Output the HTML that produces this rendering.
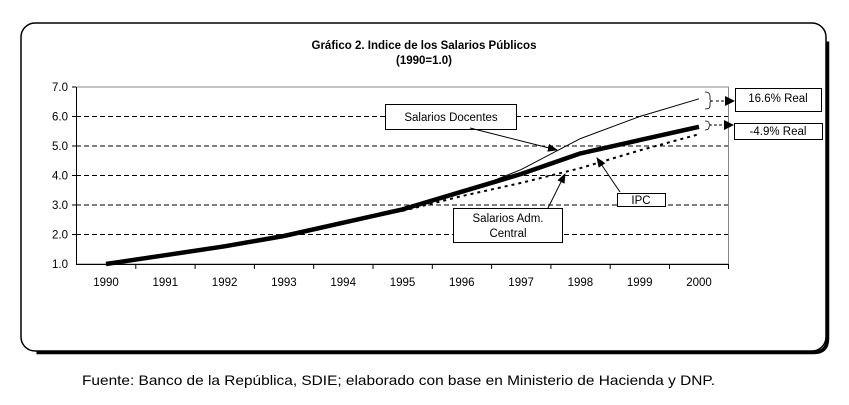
<!DOCTYPE html>
<html><head><meta charset="utf-8"><style>
body{margin:0;background:#fff;}
svg{display:block;font-family:"Liberation Sans",Arial,sans-serif;}
</style></head><body>
<svg width="849" height="405" viewBox="0 0 849 405">
<defs><marker id="ah" markerWidth="10" markerHeight="8" refX="9" refY="4" orient="auto" markerUnits="userSpaceOnUse"><path d="M0,0 L10,4 L0,8 Z" fill="#000"/></marker></defs>
<rect x="21" y="23" width="805" height="328" rx="14" fill="#fff" stroke="#000" stroke-width="1.5"/>
<path d="M826,40 L826,337 Q826,351 812,351 L35,351" fill="none" stroke="#000" stroke-width="3.5" transform="translate(1.5,1.5)"/>
<text x="424" y="49" font-size="11.5" font-weight="bold" text-anchor="middle">Gráfico 2. Indice de los Salarios Públicos</text>
<text x="424" y="64" font-size="11.5" font-weight="bold" text-anchor="middle">(1990=1.0)</text>
<g stroke="#000" stroke-width="1" stroke-dasharray="5,3">
<line x1="76" y1="116.5" x2="728" y2="116.5"/><line x1="76" y1="146" x2="728" y2="146"/><line x1="76" y1="175.5" x2="728" y2="175.5"/><line x1="76" y1="205" x2="728" y2="205"/><line x1="76" y1="234.5" x2="728" y2="234.5"/>
</g>
<rect x="76.5" y="87" width="652" height="177" fill="none" stroke="#888" stroke-width="1"/>
<line x1="76.5" y1="87" x2="76.5" y2="264" stroke="#000"/>
<line x1="76" y1="264.5" x2="729" y2="264.5" stroke="#000"/>
<g stroke="#000"><line x1="72" y1="87" x2="76" y2="87"/><line x1="72" y1="116.5" x2="76" y2="116.5"/><line x1="72" y1="146" x2="76" y2="146"/><line x1="72" y1="175.5" x2="76" y2="175.5"/><line x1="72" y1="205" x2="76" y2="205"/><line x1="72" y1="234.5" x2="76" y2="234.5"/>
<line x1="135.8" y1="264" x2="135.8" y2="269"/><line x1="195.1" y1="264" x2="195.1" y2="269"/><line x1="254.4" y1="264" x2="254.4" y2="269"/><line x1="313.7" y1="264" x2="313.7" y2="269"/><line x1="373" y1="264" x2="373" y2="269"/><line x1="432.3" y1="264" x2="432.3" y2="269"/><line x1="491.6" y1="264" x2="491.6" y2="269"/><line x1="550.9" y1="264" x2="550.9" y2="269"/><line x1="610.2" y1="264" x2="610.2" y2="269"/><line x1="669.5" y1="264" x2="669.5" y2="269"/><line x1="728.5" y1="264" x2="728.5" y2="269"/></g>
<g font-size="11.5" text-anchor="end"><text x="68" y="91">7.0</text><text x="68" y="120.5">6.0</text><text x="68" y="150">5.0</text><text x="68" y="179.5">4.0</text><text x="68" y="209">3.0</text><text x="68" y="238.5">2.0</text><text x="68" y="268">1.0</text></g>
<g font-size="11.5" text-anchor="middle"><text x="106" y="286">1990</text><text x="165.3" y="286">1991</text><text x="224.6" y="286">1992</text><text x="283.9" y="286">1993</text><text x="343.2" y="286">1994</text><text x="402.5" y="286">1995</text><text x="461.8" y="286">1996</text><text x="521.1" y="286">1997</text><text x="580.4" y="286">1998</text><text x="639.7" y="286">1999</text><text x="699" y="286">2000</text></g>
<polyline fill="none" stroke="#000" stroke-width="1" points="402.5,210.9 461.8,193.2 521.1,169.6 580.4,138.6 639.7,116.5 699,98.8"/>
<polyline fill="none" stroke="#000" stroke-width="2" stroke-dasharray="3,4" points="402.5,210.9 461.8,196.1 521.1,182.9 580.4,168.1 639.7,150.4 699,134.2"/>
<polyline fill="none" stroke="#000" stroke-width="4.5" stroke-linejoin="round" points="106,264 165.3,255.2 224.6,246.3 283.9,236 343.2,222.7 402.5,209.4 461.8,191.7 521.1,174 580.4,153.4 639.7,140.1 699,126.8"/>
<rect x="385.5" y="104.5" width="131" height="25" fill="#fff" stroke="#000"/>
<text x="451" y="121" font-size="11.5" text-anchor="middle">Salarios Docentes</text>
<line x1="470" y1="128" x2="557" y2="150" stroke="#000" marker-end="url(#ah)"/>
<rect x="617.5" y="193.5" width="48" height="13" fill="#fff" stroke="#000"/>
<text x="641" y="204" font-size="11.5" text-anchor="middle">IPC</text>
<line x1="620" y1="192" x2="597" y2="158" stroke="#000" marker-end="url(#ah)"/>
<rect x="453.5" y="208.5" width="109" height="34" fill="#fff" stroke="#000"/>
<text x="508" y="222" font-size="11.5" text-anchor="middle">Salarios Adm.</text>
<text x="508" y="237" font-size="11.5" text-anchor="middle">Central</text>
<line x1="548" y1="208" x2="565" y2="174" stroke="#000" marker-end="url(#ah)"/>
<path d="M705,92 Q710,92 710,96 L710,99 Q710,101 713,101 Q710,101 710,103 L710,106 Q710,109 705,109" fill="none" stroke="#000" stroke-width="0.8"/>
<line x1="716" y1="101" x2="735" y2="101" stroke="#000" stroke-dasharray="3,2"/><path d="M725,96 L735,101 L725,106Z"/>
<path d="M705,121 Q709,121 709,123 Q709,125 712,125 Q709,125 709,127 Q709,130 705,130" fill="none" stroke="#000" stroke-width="0.8"/>
<line x1="714" y1="125" x2="734" y2="125" stroke="#000" stroke-dasharray="3,2"/><path d="M724,120 L734,125 L724,130Z"/>
<rect x="735.5" y="88.5" width="86" height="23" fill="#fff" stroke="#000"/>
<text x="778" y="102" font-size="11.5" text-anchor="middle">16.6% Real</text>
<rect x="734.5" y="123.5" width="88" height="16" fill="#fff" stroke="#000"/>
<text x="778" y="135" font-size="11.5" text-anchor="middle">-4.9% Real</text>
<text x="82" y="385" font-size="14" textLength="633" lengthAdjust="spacingAndGlyphs">Fuente:  Banco de la República, SDIE; elaborado con base en Ministerio de Hacienda y DNP.</text>
</svg>
</body></html>
